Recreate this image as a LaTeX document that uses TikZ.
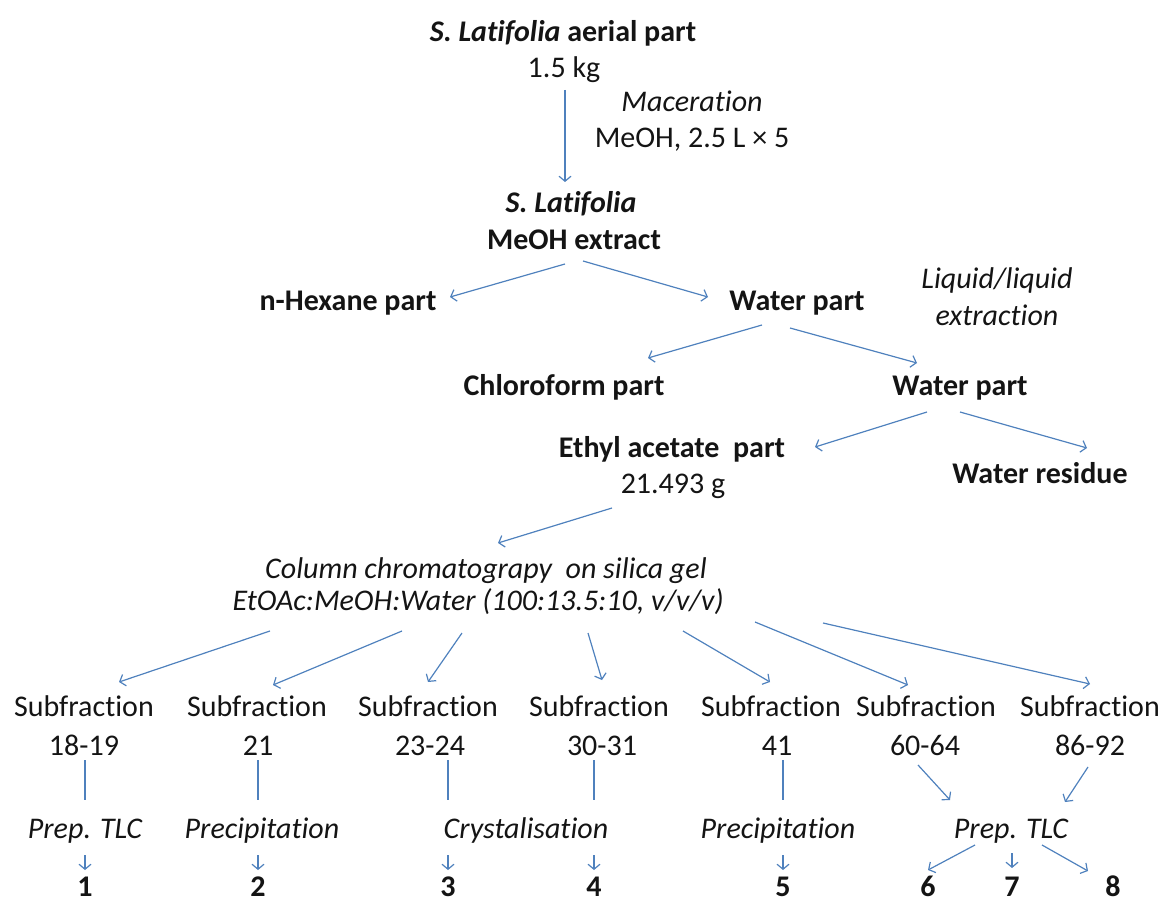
\documentclass[tikz,border=0pt]{standalone}
\usepackage{fontspec}
\setmainfont{Carlito}[RawFeature={-liga;-dlig;-clig}]
\usetikzlibrary{arrows.meta,calc}
\definecolor{ablue}{RGB}{79,129,189}
\definecolor{ink}{RGB}{20,20,20}
\begin{document}
\begin{tikzpicture}[x=1pt,y=-1pt,
  every node/.style={inner sep=0pt, text height=20pt, text depth=0pt, anchor=center,
    text=ink, font=\fontsize{30}{36}\selectfont},
  bt/.style={font=\fontsize{30}{36}\selectfont\bfseries},
  it/.style={font=\fontsize{30}{36}\selectfont\itshape},
  arr/.style={draw=ablue, line width=1.2pt, -{Straight Barb[length=5pt,width=12pt]}},
  plainline/.style={draw=ablue, line width=1.2pt}]
\useasboundingbox (0,0) rectangle (1165,904);
% top
\node[bt] (top1) at (563,32) {\textit{S. Latifolia} aerial part};
\node (top2) at (564,68) {1.5 kg};
\node[it] (mac1) at (692,102) {Maceration};
\node (mac2) at (692,138) {MeOH, 2.5 L × 5};
\node[bt,font=\fontsize{30}{36}\selectfont\bfseries\itshape] (ext1) at (571,203) {S. Latifolia};
\node[bt] (ext2) at (574,240) {MeOH extract};
\node[bt] (hex) at (348,300) {n-Hexane part};
\node[bt] (wp1) at (797,300) {Water part};
\node[it] (liq1) at (997,278) {Liquid/liquid};
\node[it] (liq2) at (997,315) {extraction};
\node[bt] (chl) at (564,385) {Chloroform part};
\node[bt] (wp2) at (960,385) {Water part};
\node[bt] (eth) at (672,447) {Ethyl acetate\ \ part};
\node (eg) at (673,483) {21.493 g};
\node[bt] (wr) at (1040,473) {Water residue};
\node[it] (col1) at (486,568) {Column chromatograpy\ \ on silica gel};
\node[it] (col2) at (478,600) {EtOAc:MeOH:Water (100:13.5:10, v/v/v)};
% subfractions
\foreach \i/\x/\nx/\lab in {1/84/84/18-19, 2/257/258/21, 3/428/430/23-24, 4/599/602/30-31,
  5/771/777/41, 6/926/925/60-64, 7/1090/1090/86-92}{
  \node (sf\i) at (\x,706) {Subfraction};
  \node (sn\i) at (\nx,745) {\lab};
}
% methods
\node[it] (m1) at (85,828) {Prep. TLC};
\node[it] (m2) at (262,828) {Precipitation};
\node[it] (m3) at (526,828) {Crystalisation};
\node[it] (m4) at (778,828) {Precipitation};
\node[it] (m5) at (1011,828) {Prep. TLC};
% results
\foreach \i/\x in {1/85, 2/258, 3/448, 4/594, 5/783, 6/928, 7/1012, 8/1113}{
  \node[bt] (r\i) at (\x,886) {\i};
}
% connectors
\draw[arr] ($(top2)+(1,22)$) -- ($(ext1)+(-6,-21)$);
\draw[arr] ($(ext2)+(-9,24)$) -- ($(hex)+(102,-3)$);
\draw[arr] ($(ext2)+(9,21)$) -- ($(wp1)+(-89,-3)$);
\draw[arr] ($(wp1)+(-35,25)$) -- ($(chl)+(84,-27)$);
\draw[arr] ($(wp1)+(-7,28)$) -- ($(wp2)+(-43,-22)$);
\draw[arr] ($(wp2)+(-33,27)$) -- ($(eth)+(143,0)$);
\draw[arr] ($(wp2)+(0,27)$) -- ($(wr)+(47,-25)$);
\draw[arr] ($(eg)+(-61,25)$) -- ($(col1)+(12,-25)$);
\draw[arr] ($(col2)+(-208,31)$) -- ($(sf1)+(35,-24)$);
\draw[arr] ($(col2)+(-76,31)$) -- ($(sf2)+(16,-21)$);
\draw[arr] ($(col2)+(-16,33)$) -- ($(sf3)+(0,-24)$);
\draw[arr] ($(col2)+(110,33)$) -- ($(sf4)+(3,-26)$);
\draw[arr] ($(col2)+(205,31)$) -- ($(sf5)+(-1,-24)$);
\draw[arr] ($(col2)+(277,22)$) -- ($(sf6)+(-18,-21)$);
\draw[arr] ($(col2)+(345,23)$) -- ($(sf7)+(0,-22)$);
% subfraction to method
\draw[plainline] ($(sn1)+(1,15)$) -- ($(m1)+(0,-28)$);
\draw[plainline] ($(sn2)+(0,15)$) -- ($(m2)+(-4,-28)$);
\draw[plainline] ($(sn3)+(18,15)$) -- ($(m3)+(-78,-28)$);
\draw[plainline] ($(sn4)+(-8,15)$) -- ($(m3)+(68,-28)$);
\draw[plainline] ($(sn5)+(6,15)$) -- ($(m4)+(5,-28)$);
\draw[arr] ($(sn6)+(-7,20)$) -- ($(m5)+(-61,-28)$);
\draw[arr] ($(sn7)+(-2,22)$) -- ($(m5)+(54,-26)$);
% method to result
\draw[arr] ($(m1)+(0,27)$) -- ($(r1)+(0,-16)$);
\draw[arr] ($(m2)+(-4,27)$) -- ($(r2)+(0,-16)$);
\draw[arr] ($(m3)+(-78,27)$) -- ($(r3)+(0,-16)$);
\draw[arr] ($(m3)+(68,27)$) -- ($(r4)+(0,-16)$);
\draw[arr] ($(m4)+(5,27)$) -- ($(r5)+(0,-16)$);
\draw[arr] ($(m5)+(-36,17)$) -- ($(r6)+(0,-16)$);
\draw[arr] ($(m5)+(1,25)$) -- ($(r7)+(0,-18)$);
\draw[arr] ($(m5)+(31,17)$) -- ($(r8)+(-25,-15)$);
\end{tikzpicture}
\end{document}
